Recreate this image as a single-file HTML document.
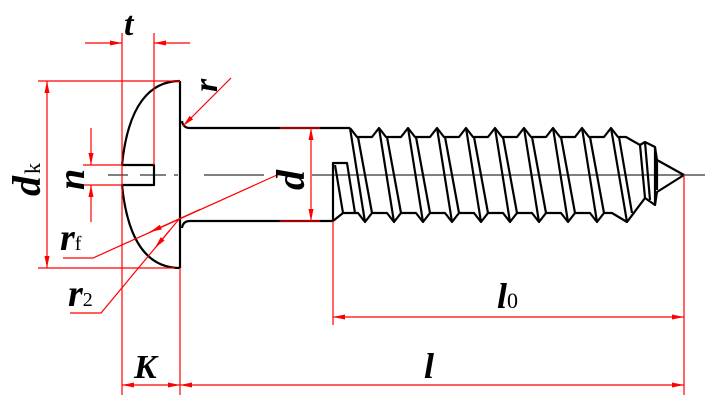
<!DOCTYPE html>
<html><head><meta charset="utf-8"><style>
html,body{margin:0;padding:0;background:#fff;width:713px;height:413px;overflow:hidden}
svg{display:block}
text{font-family:"Liberation Serif",serif;font-style:italic;font-weight:bold;fill:#000}
</style></head><body>
<svg width="713" height="413" viewBox="0 0 713 413" xmlns="http://www.w3.org/2000/svg">
<defs>
<marker id="a" markerWidth="12" markerHeight="6" refX="12" refY="3" orient="auto" markerUnits="userSpaceOnUse"><path d="M0,0.5 L12,3 L0,5.5Z" fill="#f00"/></marker>
</defs>
<g stroke="#000" stroke-width="1">
<line x1="108" y1="175" x2="128" y2="175"/>
<line x1="140" y1="175" x2="166" y2="175"/>
<line x1="174" y1="175" x2="178" y2="175"/>
<line x1="204" y1="175" x2="264" y2="175"/>
<line x1="312" y1="175" x2="705" y2="175"/>
</g>
<g fill="none" stroke="#000" stroke-width="2.2" stroke-linejoin="round">
<path d="M180,81 L180,268"/>
<path d="M180,81 C150,81 128,105 122,165 L154,165 L154,185 L122,185 C128,245 150,268 180,268"/>
<path d="M182,121 Q183,128 190,128 L350,128"/>
<path d="M182,228 Q183,221 190,221 L333,221"/>
<polyline points="350,128 357,137 372,137 379,128 386,137 401,137 408,128 415,137 430,137 437,128 444,137 459,137 466,128 473,137 488,137 495,128 502,137 517,137 524,128 531,137 546,137 553,128 560,137 575,137 582,128 589,137 604,137 611,128 618,137 626,137 640,145 645,142 655,147 657,160 684,175"/>
<polyline points="333,221 343,213 358,213 365,222 372,213 387,213 394,222 401,213 416,213 423,222 430,213 445,213 452,222 459,213 474,213 481,222 488,213 503,213 510,222 517,213 532,213 539,222 546,213 561,213 568,222 575,213 590,213 597,222 604,213 612,213 627,222 645,198 655,205 657,192 684,175"/>
<polyline points="333,221 333,163 347,163 355,213"/>
<line x1="335" y1="165" x2="343" y2="213"/>
<line x1="350" y1="128" x2="365" y2="222"/><line x1="358" y1="137" x2="372" y2="213"/>
<line x1="379" y1="128" x2="394" y2="222"/><line x1="387" y1="137" x2="401" y2="213"/>
<line x1="408" y1="128" x2="423" y2="222"/><line x1="416" y1="137" x2="430" y2="213"/>
<line x1="437" y1="128" x2="452" y2="222"/><line x1="445" y1="137" x2="459" y2="213"/>
<line x1="466" y1="128" x2="481" y2="222"/><line x1="474" y1="137" x2="488" y2="213"/>
<line x1="495" y1="128" x2="510" y2="222"/><line x1="503" y1="137" x2="517" y2="213"/>
<line x1="524" y1="128" x2="539" y2="222"/><line x1="532" y1="137" x2="546" y2="213"/>
<line x1="553" y1="128" x2="568" y2="222"/><line x1="561" y1="137" x2="575" y2="213"/>
<line x1="582" y1="128" x2="597" y2="222"/><line x1="590" y1="137" x2="604" y2="213"/>
<line x1="611" y1="128" x2="627" y2="222"/><line x1="619" y1="137" x2="632" y2="213"/>
<line x1="640" y1="145" x2="645" y2="198"/>
<line x1="645" y1="142" x2="650" y2="200"/>
<line x1="655" y1="147" x2="655" y2="205"/>
<line x1="657" y1="160" x2="657" y2="190"/>
</g>
<g stroke="#f00" stroke-width="1.2" fill="none">
<line x1="122" y1="33" x2="122" y2="395"/>
<line x1="154" y1="33" x2="154" y2="165"/>
<line x1="85" y1="43" x2="122" y2="43" marker-end="url(#a)"/>
<line x1="190" y1="43" x2="154" y2="43" marker-end="url(#a)"/>
<line x1="38" y1="81" x2="180" y2="81"/>
<line x1="38" y1="268" x2="175" y2="268"/>
<line x1="47" y1="175" x2="47" y2="81" marker-end="url(#a)"/>
<line x1="47" y1="175" x2="47" y2="268" marker-end="url(#a)"/>
<line x1="83" y1="165" x2="122" y2="165"/>
<line x1="83" y1="185" x2="122" y2="185"/>
<line x1="91" y1="128" x2="91" y2="165" marker-end="url(#a)"/>
<line x1="91" y1="222" x2="91" y2="185" marker-end="url(#a)"/>
<line x1="280" y1="128" x2="320" y2="128"/>
<line x1="280" y1="221" x2="320" y2="221"/>
<line x1="311" y1="175" x2="311" y2="128" marker-end="url(#a)"/>
<line x1="311" y1="175" x2="311" y2="221" marker-end="url(#a)"/>
<line x1="180" y1="268" x2="180" y2="395"/>
<line x1="684" y1="175" x2="684" y2="395"/>
<line x1="333" y1="221" x2="333" y2="325"/>
<line x1="150" y1="385" x2="122" y2="385" marker-end="url(#a)"/>
<line x1="150" y1="385" x2="180" y2="385" marker-end="url(#a)"/>
<line x1="430" y1="385" x2="180" y2="385" marker-end="url(#a)"/>
<line x1="430" y1="385" x2="684" y2="385" marker-end="url(#a)"/>
<line x1="500" y1="317" x2="333" y2="317" marker-end="url(#a)"/>
<line x1="500" y1="317" x2="684" y2="317" marker-end="url(#a)"/>
<line x1="231" y1="78" x2="183" y2="126" marker-end="url(#a)"/>
<polyline points="63,258 93,258 277,175"/>
<line x1="200" y1="209.4" x2="150" y2="232" marker-end="url(#a)"/>
<polyline points="70,313 101,313 180,218"/>
<line x1="170" y1="230" x2="155" y2="248" marker-end="url(#a)"/>
</g>
<text x="124" y="35" font-size="34">t</text>
<text x="0" y="0" font-size="34" transform="translate(217,92) rotate(-90)">r</text>
<text x="0" y="0" font-size="40" transform="translate(40,196) rotate(-90)">d<tspan font-size="22" font-weight="normal" font-style="normal" dx="2">k</tspan></text>
<text x="0" y="0" font-size="38" transform="translate(84,190) rotate(-90)">n</text>
<text x="0" y="0" font-size="40" transform="translate(304,190) rotate(-90)">d</text>
<text x="60" y="250" font-size="38">r<tspan font-size="20" font-weight="normal" font-style="normal">f</tspan></text>
<text x="68" y="306" font-size="38">r<tspan font-size="20" font-weight="normal" font-style="normal">2</tspan></text>
<text x="497" y="308" font-size="36">l<tspan font-size="22" font-weight="normal" font-style="normal">0</tspan></text>
<text x="134" y="378" font-size="34" font-weight="normal">K</text>
<text x="424" y="378" font-size="36">l</text>
</svg>
</body></html>
